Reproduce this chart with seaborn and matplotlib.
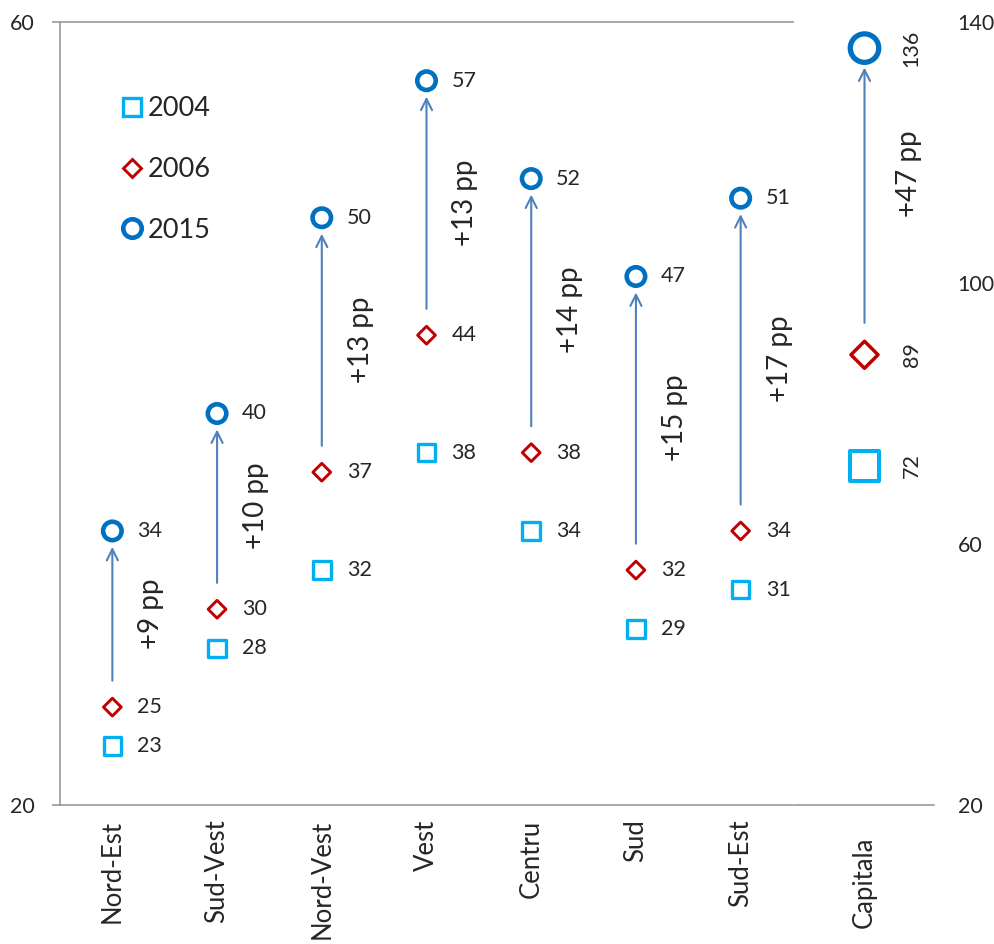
import pandas as pd
import matplotlib.pyplot as plt
import seaborn as sns
from matplotlib.lines import Line2D

# data
regions = ['Nord-Est', 'Sud-Vest', 'Nord-Vest', 'Vest', 'Centru', 'Sud', 'Sud-Est']
v2004 = [23, 28, 32, 38, 34, 29, 31]
v2006 = [25, 30, 37, 44, 38, 32, 34]
v2015 = [34, 40, 50, 57, 52, 47, 51]
gains = ['+9 pp', '+10 pp', '+13 pp', '+13 pp', '+14 pp', '+15 pp', '+17 pp']

capital = ['Capitala']
cap2004 = [72]
cap2006 = [89]
cap2015 = [136]
cap_gain = ['+47 pp']

years = ['2004', '2006', '2015']
colors = {'2004': '#00B0F0', '2006': '#C00000', '2015': '#0070C0'}
markers = {'2004': 's', '2006': 'D', '2015': 'o'}

sns.set_style('white')
plt.rcParams['font.family'] = ['Lato', 'DejaVu Sans']

fig = plt.figure(figsize=(9.94, 9.44), dpi=100)
ax = fig.add_axes([60 / 994, 139 / 944, 733 / 994, 783 / 944])
ax2 = fig.add_axes([795 / 994, 139 / 944, 139 / 994, 783 / 944])

df = pd.DataFrame({'region': regions, '2004': v2004, '2006': v2006, '2015': v2015})
cdf = pd.DataFrame({'region': capital, '2004': cap2004, '2006': cap2006, '2015': cap2015})

# (size, edge width) per marker
small = {'2004': (160, 2.4), '2006': (82, 2.1), '2015': (177, 3.3)}
big = {'2004': (460, 2.9), '2006': (190, 2.5), '2015': (420, 3.8)}

for yr in years:
    s, lw = small[yr]
    sns.scatterplot(data=df, x='region', y=yr, ax=ax, marker=markers[yr], s=s,
                    facecolor='none', edgecolor=colors[yr], linewidth=lw, zorder=3)
    s, lw = big[yr]
    sns.scatterplot(data=cdf, x='region', y=yr, ax=ax2, marker=markers[yr], s=s,
                    facecolor='none', edgecolor=colors[yr], linewidth=lw, zorder=3)

arrow = dict(arrowstyle='->,head_length=0.8,head_width=0.4', color='#4F81BD', lw=1.5)
val_fs = 15.5
pp_fs = 20

# arrows and labels, regions
for i, r in enumerate(regions):
    ax.annotate('', xy=(i, v2015[i]), xytext=(i, v2006[i]),
                arrowprops=dict(arrow, shrinkA=19, shrinkB=11.5))
    for vals in (v2004, v2006, v2015):
        ax.annotate(str(vals[i]), (i, vals[i]), xytext=(18, 0), textcoords='offset points',
                    va='center', ha='left', fontsize=val_fs)
    mid = (v2006[i] + v2015[i]) / 2
    ax.annotate(gains[i], (i, mid), xytext=(28, 4), textcoords='offset points',
                rotation=90, va='center', ha='center', fontsize=pp_fs)

# capital
ax2.annotate('', xy=(0, cap2015[0]), xytext=(0, cap2006[0]),
             arrowprops=dict(arrow, shrinkA=23, shrinkB=14))
for vals in (cap2004, cap2006, cap2015):
    ax2.annotate(str(vals[0]), (0, vals[0]), xytext=(34, 0), textcoords='offset points',
                 va='center', ha='center', rotation=90, fontsize=val_fs)
ax2.annotate(cap_gain[0], (0, (cap2006[0] + cap2015[0]) / 2), xytext=(32, 20),
             textcoords='offset points', rotation=90, va='center', ha='center', fontsize=pp_fs)

grey = '#999999'

# left axes styling
ax.set_xlim(-0.5, len(regions) - 0.5)
ax.set_ylim(20, 60)
ax.set_yticks([20, 60])
ax.set_yticklabels(['20', '60'], fontsize=15.5)
ax.set_xticks(range(len(regions)))
ax.set_xticklabels(regions, rotation=90, fontsize=18.5)
ax.set_xticks([i - 0.5 for i in range(len(regions) + 1)], minor=True)
ax.tick_params(axis='x', which='major', length=0, pad=10.5)
ax.tick_params(axis='x', which='minor', length=6, color=grey, width=1.2, direction='out')
ax.tick_params(axis='y', length=6, color=grey, width=1.2, direction='out', left=True, pad=12)
ax.set_xlabel('')
ax.set_ylabel('')
for side in ['left', 'bottom', 'top']:
    ax.spines[side].set_color(grey)
    ax.spines[side].set_linewidth(1.2)
ax.spines['right'].set_visible(False)

# right axes styling
ax2.set_xlim(-0.5, 0.5)
ax2.set_ylim(20, 140)
ax2.set_yticks([20, 60, 100, 140])
ax2.set_yticklabels(['20', '60', '100', '140'], fontsize=15.5)
ax2.yaxis.tick_right()
ax2.tick_params(axis='y', length=0, pad=17, right=True, left=False)
ax2.set_xticks([0])
ax2.set_xticklabels(capital, rotation=90, fontsize=18.5)
ax2.set_xticks([-0.5, 0.5], minor=True)
ax2.tick_params(axis='x', which='major', length=0, pad=23)
ax2.tick_params(axis='x', which='minor', length=6, color=grey, width=1.2, direction='out')
ax2.set_xlabel('')
ax2.set_ylabel('')
for side in ['left', 'right', 'top']:
    ax2.spines[side].set_visible(False)
ax2.spines['bottom'].set_color(grey)
ax2.spines['bottom'].set_linewidth(1.2)
ax2.set_facecolor('none')

# legend
leg_ms = {'2004': 12.7, '2006': 9.1, '2015': 13.3}
handles = [Line2D([], [], ls='none', marker=markers[y], markersize=leg_ms[y],
                  markerfacecolor='none', markeredgecolor=colors[y],
                  markeredgewidth=small[y][1]) for y in years]
ax.legend(handles, years, loc='upper left', bbox_to_anchor=(0.083, 0.905), frameon=False,
          fontsize=19.5, labelspacing=1.32, handlelength=0.8, handletextpad=0.2, borderpad=0,
          borderaxespad=0)

fig.savefig('out.png', dpi=100)
